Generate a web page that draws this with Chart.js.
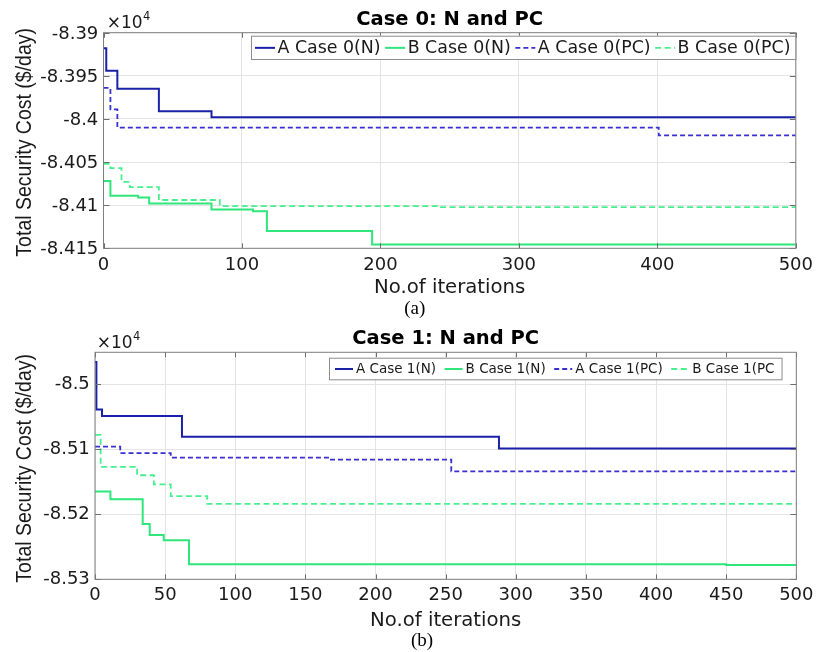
<!DOCTYPE html>
<html><head><meta charset="utf-8">
<script src="https://cdn.jsdelivr.net/npm/chart.js@4"></script>
<style>
html,body{margin:0;padding:0;background:#fff;}
body{width:819px;height:652px;position:relative;overflow:hidden;}
canvas{position:absolute;left:0;}
#cA{top:0;} #cB{top:320px;}
</style></head><body>
<canvas id="cA" width="819" height="320"></canvas>
<canvas id="cB" width="819" height="332"></canvas>
<script>
// ---------- DATA ----------
// Chart (a): Case 0
const names0 = ['A Case 0(N)', 'B Case 0(N)', 'A Case 0(PC)', 'B Case 0(PC)'];
const iterA0N = [0, 2, 10, 40, 78, 500];
const costA0N = [-83918, -83944, -83965, -83991, -83998, -83998];
const iterB0N = [0, 5, 25, 33, 78, 108, 118, 194, 500];
const costB0N = [-84072, -84089, -84091, -84098, -84105, -84107, -84130, -84145.5, -84145.5];
const iterA0PC = [0, 5, 10, 401, 500];
const costA0PC = [-83964, -83989, -84010, -84019, -84019];
const iterB0PC = [0, 5, 13, 19, 40, 84, 241, 500];
const costB0PC = [-84052, -84057, -84073, -84079, -84094, -84101, -84102.3, -84102.3];
const yTicks0 = [-84150, -84100, -84050, -84000, -83950, -83900];
const xTicks0 = [0, 100, 200, 300, 400, 500];

// Chart (b): Case 1
const names1 = ['A Case 1(N)', 'B Case 1(N)', 'A Case 1(PC)', 'B Case 1(PC'];
const iterA1N = [0, 1, 5, 62, 288, 500];
const costA1N = [-84966, -85039, -85049, -85081, -85099, -85099];
const iterB1N = [0, 11, 34, 39, 49, 67, 450, 500];
const costB1N = [-85165, -85177, -85215, -85232, -85240, -85277, -85278, -85278];
const iterA1PC = [0, 18, 54, 167, 254, 500];
const costA1PC = [-85096, -85106, -85113, -85116, -85134, -85134];
const iterB1PC = [0, 4, 30, 42, 54, 80, 500];
const costB1PC = [-85078, -85127, -85140, -85154, -85172, -85184, -85184];
const yTicks1 = [-85300, -85200, -85100, -85000];
const xTicks1 = [0, 50, 100, 150, 200, 250, 300, 350, 400, 450, 500];

const titles = ['Case 0: N and PC', 'Case 1: N and PC'];
const yTitle = 'Total Security Cost ($/day)';
const xTitle = 'No.of iterations';
const subLabels = ['(a)', '(b)'];

// ---------- STYLE ----------
const FONT = '"DejaVu Sans", sans-serif';
const colors = ['#1a20a8', '#2ee67a', '#3a30d2', '#48ef8e'];
const dashes = [[], [], [5, 3], [6, 3.5]];
const TXT = '#1a1a1a';

function pts(xs, ys) { return xs.map((x, i) => ({ x: x, y: ys[i] })); }
function fmt(v) { return String(parseFloat((v / 10000).toFixed(4))); }

function buildChart(id, cfg) {
  const canvas = document.getElementById(id);
  const W = canvas.width, H = canvas.height, A = cfg.area;
  const datasets = cfg.series.map((s, i) => ({
    label: cfg.names[i],
    data: pts(s[0], s[1]),
    borderColor: colors[i],
    borderWidth: i < 2 ? 2 : 1.8,
    borderDash: dashes[i],
    pointRadius: 0,
    stepped: 'before',
    fill: false,
    tension: 0
  }));
  const decor = {
    id: 'decor' + id,
    afterDraw(chart) {
      const ctx = chart.ctx, ca = chart.chartArea;
      const xs = chart.scales.x, ys = chart.scales.y;
      ctx.save();
      // inner tick marks
      ctx.strokeStyle = '#6e6e6e'; ctx.lineWidth = 1;
      ctx.beginPath();
      xs.ticks.forEach(t => {
        const px = Math.round(xs.getPixelForValue(t.value)) + 0.5;
        ctx.moveTo(px, ca.bottom); ctx.lineTo(px, ca.bottom - 5);
        ctx.moveTo(px, ca.top); ctx.lineTo(px, ca.top + 5);
      });
      ys.ticks.forEach(t => {
        const py = Math.round(ys.getPixelForValue(t.value)) + 0.5;
        ctx.moveTo(ca.left, py); ctx.lineTo(ca.left + 6, py);
        ctx.moveTo(ca.right, py); ctx.lineTo(ca.right - 6, py);
      });
      ctx.stroke();
      // box
      ctx.strokeStyle = '#808080';
      ctx.strokeRect(ca.left, ca.top, ca.right - ca.left, ca.bottom - ca.top);
      // title
      ctx.fillStyle = '#000';
      ctx.font = 'bold 19.5px ' + FONT;
      ctx.textAlign = 'center'; ctx.textBaseline = 'alphabetic';
      ctx.fillText(cfg.title, (ca.left + ca.right) / 2, cfg.titleBase);
      // x10^4
      ctx.fillStyle = TXT;
      ctx.textAlign = 'left';
      ctx.font = '17px ' + FONT;
      const base = '\u00d710';
      ctx.fillText(base, cfg.expX, cfg.expBase);
      const bw = ctx.measureText(base).width;
      ctx.font = '11.5px ' + FONT;
      ctx.fillText('4', cfg.expX + bw + 0.5, cfg.expBase - 8.5);
      // x title
      ctx.textAlign = 'center';
      ctx.font = '19.7px ' + FONT;
      ctx.fillText(xTitle, (ca.left + ca.right) / 2, cfg.xTitleBase);
      // y title
      ctx.save();
      ctx.translate(25, cfg.yTitleY);
      ctx.rotate(-Math.PI / 2);
      ctx.scale(1, 1.12);
      ctx.font = '19.5px "Liberation Sans", Arial, sans-serif';
      ctx.textBaseline = 'middle';
      ctx.fillText(yTitle, 0, 0);
      ctx.restore();
      // sub label
      ctx.fillStyle = '#000';
      ctx.font = '19px "Liberation Serif", serif';
      ctx.textAlign = 'center'; ctx.textBaseline = 'alphabetic';
      ctx.fillText(cfg.sub, cfg.subX, cfg.subBase);
      // legend
      const L = cfg.legend;
      ctx.font = L.font + 'px ' + FONT;
      let total = L.padL;
      cfg.names.forEach((n, i) => {
        total += L.line + L.gapLT + ctx.measureText(n).width + (i < cfg.names.length - 1 ? L.gapTL : 0);
      });
      total += L.padR;
      ctx.fillStyle = '#fff';
      ctx.fillRect(L.left, L.top, total, L.h);
      ctx.strokeStyle = '#8c8c8c'; ctx.lineWidth = 1;
      ctx.strokeRect(L.left + 0.5, L.top + 0.5, total, L.h);
      const cy = L.top + L.h / 2 + 0.5;
      let x = L.left + L.padL;
      cfg.names.forEach((n, i) => {
        ctx.strokeStyle = colors[i];
        ctx.lineWidth = i < 2 ? 2 : 1.8;
        ctx.setLineDash(dashes[i]);
        ctx.beginPath(); ctx.moveTo(x, cy); ctx.lineTo(x + L.line, cy); ctx.stroke();
        ctx.setLineDash([]);
        x += L.line + L.gapLT;
        ctx.fillStyle = TXT; ctx.textAlign = 'left'; ctx.textBaseline = 'middle';
        ctx.fillText(n, x, cy + 0.5);
        x += ctx.measureText(n).width + L.gapTL;
      });
      ctx.restore();
    }
  };
  return new Chart(canvas, {
    type: 'line',
    data: { datasets: datasets },
    plugins: [decor],
    options: {
      responsive: false,
      animation: false,
      events: [],
      layout: { padding: { left: 0, top: A.top, right: W - A.right, bottom: 0 } },
      plugins: { legend: { display: false }, tooltip: { enabled: false }, title: { display: false } },
      scales: {
        x: {
          type: 'linear', min: cfg.xTicks[0], max: cfg.xTicks[cfg.xTicks.length - 1],
          afterFit: s => { s.height = H - A.bottom; },
          afterBuildTicks: s => { s.ticks = cfg.xTicks.map(v => ({ value: v })); },
          grid: { color: '#e4e4e4', lineWidth: 1, drawTicks: false },
          border: { display: false },
          ticks: { padding: cfg.xPad, color: TXT, font: { family: FONT, size: 18 }, maxRotation: 0, autoSkip: false },
          title: { display: false }
        },
        y: {
          type: 'linear', min: cfg.yMin, max: cfg.yMax,
          afterFit: s => { s.width = A.left; },
          afterBuildTicks: s => { s.ticks = cfg.yTicks.map(v => ({ value: v })); },
          grid: { color: '#e4e4e4', lineWidth: 1, drawTicks: false },
          border: { display: false },
          ticks: { padding: 5.2, labelOffset: cfg.yLabelOffset, color: TXT, font: { family: FONT, size: 18 }, autoSkip: false, callback: v => fmt(v) },
          title: { display: false }
        }
      }
    }
  });
}

buildChart('cA', {
  area: { left: 103.5, top: 32.7, right: 801.7, bottom: 248.3 },
  names: names0,
  series: [[iterA0N, costA0N], [iterB0N, costB0N], [iterA0PC, costA0PC], [iterB0PC, costB0PC]],
  yMin: yTicks0[0], yMax: yTicks0[yTicks0.length - 1], yTicks: yTicks0, xTicks: xTicks0,
  xPad: 6, yLabelOffset: 1.5,
  title: titles[0], titleBase: 25,
  expX: 106.7, expBase: 28.3,
  xTitleBase: 293, yTitleY: 142.3,
  sub: subLabels[0], subX: 414.7, subBase: 313.5,
  legend: { left: 251, top: 35.7, h: 23.3, font: 17.4, line: 20, gapLT: 2.5, gapTL: 4.5, padL: 4, padR: 5 }
});

buildChart('cB', {
  area: { left: 95, top: 32.3, right: 800, bottom: 259.3 },
  names: names1,
  series: [[iterA1N, costA1N], [iterB1N, costB1N], [iterA1PC, costA1PC], [iterB1PC, costB1PC]],
  yMin: -85300, yMax: -84951, yTicks: yTicks1, xTicks: xTicks1,
  xPad: 5.5, yLabelOffset: 0,
  title: titles[1], titleBase: 24,
  expX: 96.7, expBase: 28.3,
  xTitleBase: 306, yTitleY: 148.3,
  sub: subLabels[1], subX: 422, subBase: 326,
  legend: { left: 329, top: 37.7, h: 21.6, font: 13.5, line: 18, gapLT: 3, gapTL: 8.5, padL: 6, padR: 7 }
});
</script>
</body></html>
